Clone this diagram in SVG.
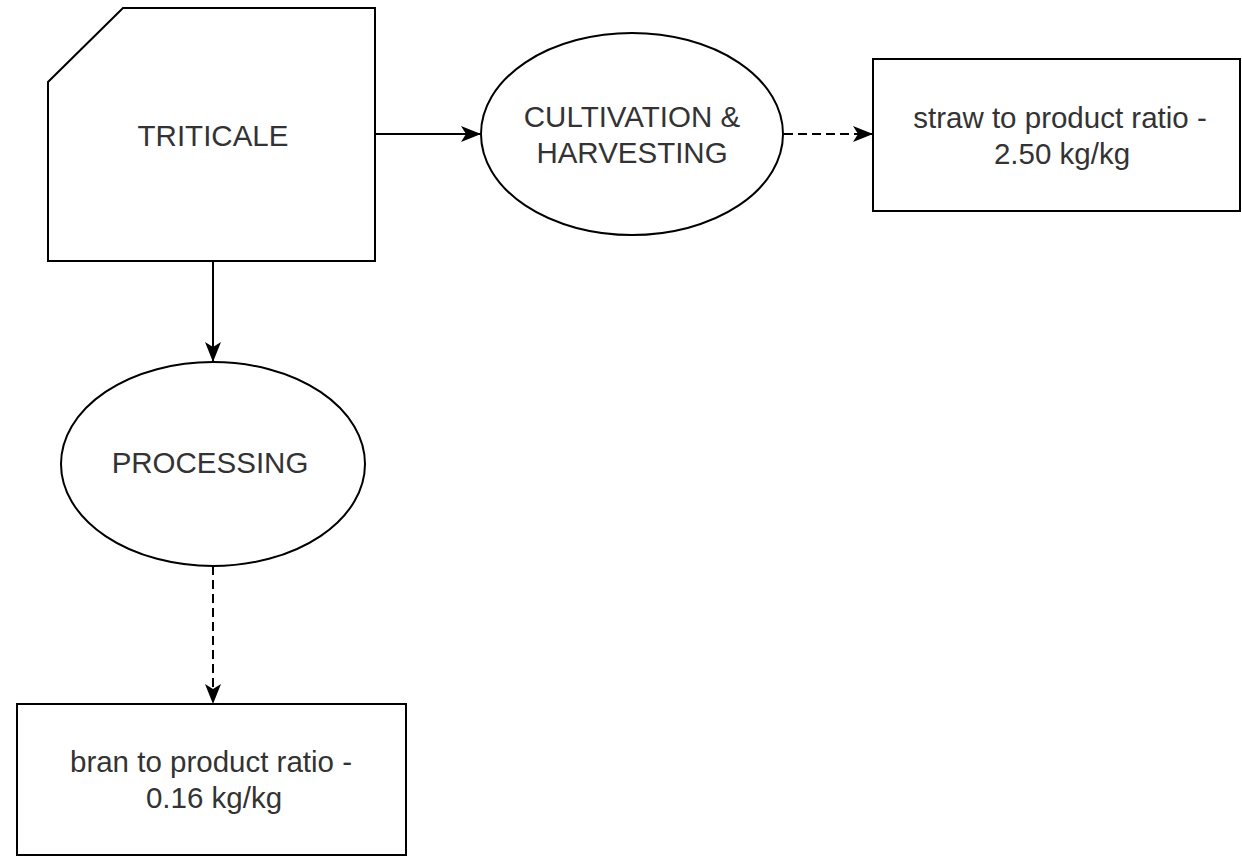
<svg xmlns="http://www.w3.org/2000/svg" width="1242" height="867" viewBox="0 0 1242 867">
<defs>
<marker id="arr" viewBox="0 0 20 16" refX="19" refY="8" markerWidth="20" markerHeight="16" markerUnits="userSpaceOnUse" orient="auto">
<path d="M0,0 L20,8 L0,16 L5,8 Z" fill="#000"/>
</marker>
</defs>
<style>
.shape{fill:#fff;stroke:#000;stroke-width:2}
.lbl{font-family:"Liberation Sans",Arial,sans-serif;font-size:29.5px;fill:#333;text-anchor:middle}
.edge{fill:none;stroke:#000;stroke-width:2}
.dash{stroke-dasharray:9 5}
</style>
<rect width="1242" height="867" fill="#fff"/>
<g id="connectors">
<line class="edge" x1="375" y1="134" x2="480" y2="134" marker-end="url(#arr)"/>
<line class="edge dash" x1="784" y1="134" x2="872" y2="134" marker-end="url(#arr)"/>
<line class="edge" x1="213" y1="261" x2="213" y2="361" marker-end="url(#arr)"/>
<line class="edge dash" x1="213" y1="566" x2="213" y2="703" marker-end="url(#arr)"/>
</g>
<g id="triticale">
<polygon class="shape" points="123,8 375,8 375,261 48,261 48,82"/>
<text class="lbl" x="213" y="146">TRITICALE</text>
</g>
<g id="cultivation">
<ellipse class="shape" cx="632" cy="134" rx="151" ry="101"/>
<text class="lbl" x="632" y="127">CULTIVATION &amp;</text>
<text class="lbl" x="632" y="163">HARVESTING</text>
</g>
<g id="straw">
<rect class="shape" x="873" y="59" width="367" height="152"/>
<text class="lbl" x="1060" y="128">straw to product ratio -</text>
<text class="lbl" x="1062" y="164">2.50 kg/kg</text>
</g>
<g id="processing">
<ellipse class="shape" cx="213" cy="464" rx="152" ry="102"/>
<text class="lbl" x="210" y="473">PROCESSING</text>
</g>
<g id="bran">
<rect class="shape" x="17" y="704" width="389" height="151"/>
<text class="lbl" x="211" y="772">bran to product ratio -</text>
<text class="lbl" x="214" y="808">0.16 kg/kg</text>
</g>
</svg>
